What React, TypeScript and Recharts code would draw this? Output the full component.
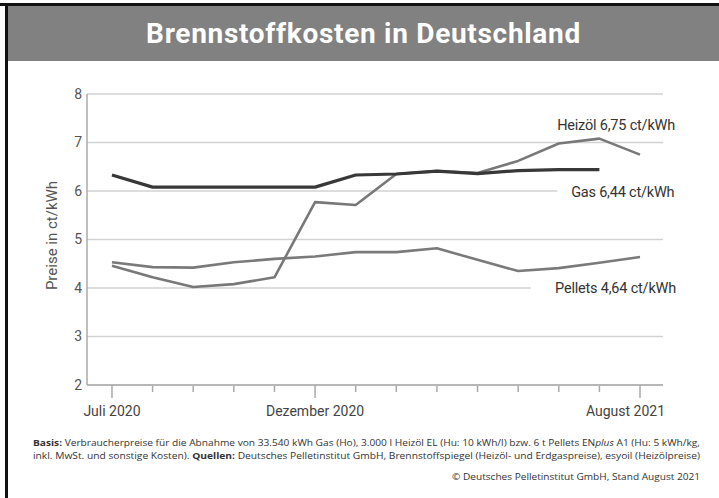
import React from 'react';
import { LineChart, Line, XAxis, YAxis, CartesianGrid, LabelList, Label } from 'recharts';

const months = ['Jul 20', 'Aug 20', 'Sep 20', 'Okt 20', 'Nov 20', 'Dez 20', 'Jan 21', 'Feb 21', 'Mär 21', 'Apr 21', 'Mai 21', 'Jun 21', 'Jul 21', 'Aug 21'];
const tickLabels = ['Juli 2020', '', '', '', '', 'Dezember 2020', '', '', '', '', '', '', '', 'August 2021'];
const majorTicks = [0, 5, 13];
const gas = [6.33, 6.08, 6.08, 6.08, 6.08, 6.08, 6.33, 6.35, 6.41, 6.36, 6.42, 6.44, 6.44, null];
const heizoel = [4.46, 4.22, 4.02, 4.08, 4.22, 5.77, 5.71, 6.35, 6.41, 6.37, 6.62, 6.98, 7.08, 6.75];
const pellets = [4.53, 4.43, 4.42, 4.53, 4.6, 4.65, 4.74, 4.74, 4.82, 4.58, 4.35, 4.41, 4.52, 4.64];
const yTicks = [2, 3, 4, 5, 6, 7, 8];
const seriesLabels = { heizoel: 'Heizöl 6,75 ct/kWh', gas: 'Gas 6,44 ct/kWh', pellets: 'Pellets 4,64 ct/kWh' };
const title = 'Brennstoffkosten in Deutschland';
const yLabel = 'Preise in ct/kWh';

const data = months.map((m, i) => ({ i, month: m, gas: gas[i], heizoel: heizoel[i], pellets: pellets[i] }));

const FONT = "Roboto, 'DejaVu Sans', sans-serif";

const lastIdx = (arr: (number | null)[]) => {
  let k = -1;
  arr.forEach((v, i) => { if (v !== null && v !== undefined) k = i; });
  return k;
};

const makeLabel = (text: string, idx: number, dx: number, dy: number) => (props: any) => {
  if (props.index !== idx) return null;
  const xe = props.x + dx;
  const yb = props.y + dy;
  const w = text.length * 7 + 12;
  return (
    <g>
      <rect x={xe - w} y={yb - 14} width={w + 4} height={19} fill="#fff" />
      <text x={xe} y={yb} textAnchor="end" fontFamily={FONT} fontSize={14.5} fill="#333" letterSpacing={-0.2}>{text}</text>
    </g>
  );
};

const XTick = (props: any) => {
  const { x, y, payload } = props;
  const i = payload.value as number;
  const major = majorTicks.includes(i);
  const lbl = tickLabels[i] || '';
  const last = i === months.length - 1;
  return (
    <g>
      <line x1={x} x2={x} y1={major ? y : y + 1} y2={major ? y + 13 : y + 7} stroke="#aaa" strokeWidth={1.5} />
      {lbl && (
        <text x={last ? x + 25 : x} y={y + 31} textAnchor={last ? 'end' : 'middle'} fontFamily={FONT} fontSize={14} fill="#444">{lbl}</text>
      )}
    </g>
  );
};

export default function App() {
  return (
    <div style={{ position: 'absolute', left: 0, top: 0, width: 719, height: 498, background: '#fff', overflow: 'hidden', fontFamily: FONT }}>
      <div style={{ position: 'absolute', left: 0, top: 3, width: 719, height: 3, background: '#111' }} />
      <div style={{ position: 'absolute', left: 5, top: 3, width: 3, height: 495, background: '#111' }} />
      <div style={{ position: 'absolute', left: 8, top: 6, width: 711, height: 55, background: '#818181' }} />
      <div style={{ position: 'absolute', left: 8, top: 6, width: 711, height: 55, display: 'flex', alignItems: 'center', justifyContent: 'center', color: '#fff', fontSize: 28, fontWeight: 700, letterSpacing: 0.7 }}>
        {title}
      </div>
      <div style={{ position: 'absolute', left: 0, top: 0 }}>
        <LineChart width={719} height={498} data={data} margin={{ top: 94, right: 56, bottom: 83, left: 47 }}>
          <CartesianGrid vertical={false} stroke="#d2d2d2" strokeWidth={1.5} />
          <XAxis dataKey="i" type="number" domain={[-0.615, 13.566]} ticks={months.map((_, i) => i)} interval={0} height={30} tickSize={0} tickMargin={0} tickLine={false} axisLine={{ stroke: '#aaa', strokeWidth: 1.5 }} tick={<XTick />} />
          <YAxis type="number" domain={[2, 8]} ticks={yTicks} width={40} tickLine={false} tickSize={0} tickMargin={5} axisLine={{ stroke: '#aaa', strokeWidth: 1.5 }} tick={{ fill: '#555', fontSize: 14, fontFamily: FONT }}>
            <Label content={(p: any) => {
              const vb = p.viewBox || { x: 47, y: 94, height: 291 };
              const cx = vb.x + 5;
              const cy = vb.y + vb.height / 2 - 4;
              return <text x={cx} y={cy} transform={`rotate(-90 ${cx} ${cy})`} textAnchor="middle" dominantBaseline="central" fontFamily={FONT} fontSize={15} fill="#555" stroke="none">{yLabel}</text>;
            }} />
          </YAxis>
          <Line dataKey="pellets" stroke="#7a7a7a" strokeWidth={2.6} dot={false} isAnimationActive={false} strokeLinejoin="round">
            <LabelList dataKey="pellets" content={makeLabel(seriesLabels.pellets, lastIdx(pellets), 36, 36)} />
          </Line>
          <Line dataKey="heizoel" stroke="#787878" strokeWidth={2.6} dot={false} isAnimationActive={false} strokeLinejoin="round">
            <LabelList dataKey="heizoel" content={makeLabel(seriesLabels.heizoel, lastIdx(heizoel), 35, -25)} />
          </Line>
          <Line dataKey="gas" stroke="#383838" strokeWidth={3.2} dot={false} isAnimationActive={false} strokeLinejoin="round">
            <LabelList dataKey="gas" content={makeLabel(seriesLabels.gas, lastIdx(gas), 75, 27)} />
          </Line>
        </LineChart>
      </div>
      <svg style={{ position: 'absolute', left: 0, top: 0 }} width={719} height={498}>
        <text x={33} y={446} fontSize={9} fontFamily="'Open Sans', sans-serif" fill="#333" textLength={667} lengthAdjust="spacingAndGlyphs">
          <tspan fontWeight={700}>Basis:</tspan> Verbraucherpreise für die Abnahme von 33.540 kWh Gas (Ho), 3.000 l Heizöl EL (Hu: 10 kWh/l) bzw. 6 t Pellets EN<tspan fontStyle="italic">plus</tspan> A1 (Hu: 5 kWh/kg,
        </text>
        <text x={33} y={459} fontSize={9} fontFamily="'Open Sans', sans-serif" fill="#333" textLength={667} lengthAdjust="spacingAndGlyphs">
          inkl. MwSt. und sonstige Kosten). <tspan fontWeight={700}>Quellen:</tspan> Deutsches Pelletinstitut GmbH, Brennstoffspiegel (Heizöl- und Erdgaspreise), esyoil (Heizölpreise)
        </text>
        <text x={452} y={480} fontSize={9.5} fontFamily="'Open Sans', sans-serif" fill="#333" textLength={248} lengthAdjust="spacingAndGlyphs">
          © Deutsches Pelletinstitut GmbH, Stand August 2021
        </text>
      </svg>
    </div>
  );
}
